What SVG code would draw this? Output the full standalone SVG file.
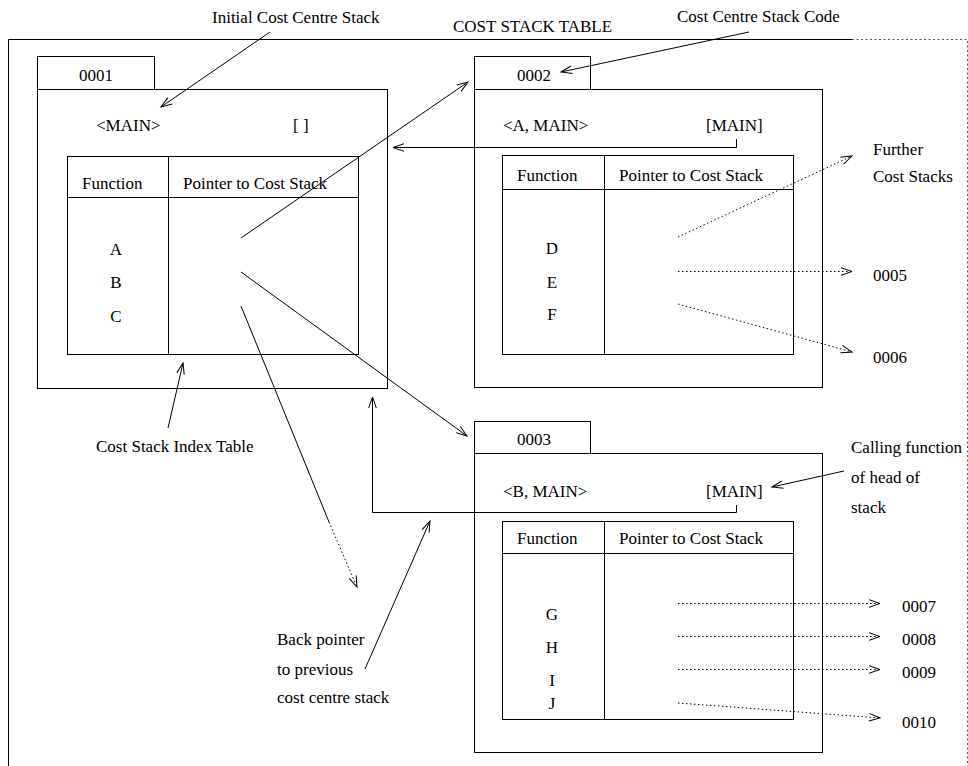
<svg xmlns="http://www.w3.org/2000/svg" width="968" height="766" viewBox="0 0 968 766">
<defs>
<marker id="ah" markerWidth="14" markerHeight="10" viewBox="-12 -5 14 10" refX="0" refY="0" orient="auto" markerUnits="userSpaceOnUse">
<path d="M-11,-3.8 L0,0 L-11,3.8" fill="none" stroke="#000" stroke-width="1"/>
</marker>
</defs>
<style>
text{font-family:"Liberation Serif","Times New Roman",serif;font-size:17px;fill:#000}
.c{text-anchor:middle}
.b{fill:#fff;stroke:#000;stroke-width:1}
.l{fill:none;stroke:#000;stroke-width:1}
.d{fill:none;stroke:#000;stroke-width:1;stroke-dasharray:1.5 2.5}
.f{fill:none;stroke:#555;stroke-width:1;stroke-dasharray:2 2.5}
</style>
<rect width="968" height="766" fill="#fff"/>
<g id="frame">
<path class="l" d="M8.5,766 V39.5 H852"/>
<path class="f" d="M852,39.5 H967.5 V766"/>
<text x="453" y="32">COST STACK TABLE</text>
</g>
<g id="stack0001">
<rect class="b" x="37.5" y="56.5" width="117" height="33"/>
<rect class="b" x="37.5" y="89.5" width="350" height="299"/>
<text class="c" x="96" y="81">0001</text>
<text x="96" y="131">&lt;MAIN&gt;</text>
<text x="293" y="131">[ ]</text>
<rect class="b" x="67.5" y="156.5" width="291" height="198"/>
<path class="l" d="M168.5,156.5 V354.5 M67.5,197.5 H358.5"/>
<text x="82" y="189">Function</text>
<text x="183" y="189">Pointer to Cost Stack</text>
<text class="c" x="116" y="255">A</text>
<text class="c" x="116" y="288">B</text>
<text class="c" x="116" y="322">C</text>
</g>
<g id="stack0002">
<rect class="b" x="474.5" y="56.5" width="116" height="33"/>
<rect class="b" x="474.5" y="89.5" width="348" height="298"/>
<text class="c" x="534" y="81">0002</text>
<text x="503" y="131">&lt;A, MAIN&gt;</text>
<text x="706" y="131">[MAIN]</text>
<rect class="b" x="502.5" y="155.5" width="291" height="199"/>
<path class="l" d="M604.5,155.5 V354.5 M502.5,189.5 H793.5"/>
<text x="517" y="181">Function</text>
<text x="619" y="181">Pointer to Cost Stack</text>
<text class="c" x="552" y="254">D</text>
<text class="c" x="552" y="288">E</text>
<text class="c" x="552" y="320">F</text>
</g>
<g id="stack0003">
<rect class="b" x="474.5" y="421.5" width="116" height="32"/>
<rect class="b" x="474.5" y="453.5" width="348" height="299"/>
<text class="c" x="534" y="445">0003</text>
<text x="503" y="497">&lt;B, MAIN&gt;</text>
<text x="706" y="497">[MAIN]</text>
<rect class="b" x="502.5" y="521.5" width="291" height="198"/>
<path class="l" d="M604.5,521.5 V719.5 M502.5,553.5 H793.5"/>
<text x="517" y="544">Function</text>
<text x="619" y="544">Pointer to Cost Stack</text>
<text class="c" x="552" y="620">G</text>
<text class="c" x="552" y="653">H</text>
<text class="c" x="552" y="686">I</text>
<text class="c" x="552" y="709">J</text>
</g>
<g id="labels">
<text x="212" y="23">Initial Cost Centre Stack</text>
<text x="677" y="22">Cost Centre Stack Code</text>
<text x="96" y="452">Cost Stack Index Table</text>
<text x="873" y="155">Further</text>
<text x="873" y="182">Cost Stacks</text>
<text x="873" y="281">0005</text>
<text x="873" y="363">0006</text>
<text x="851" y="453">Calling function</text>
<text x="851" y="483">of head of</text>
<text x="851" y="513">stack</text>
<text x="902" y="612">0007</text>
<text x="902" y="645">0008</text>
<text x="902" y="678">0009</text>
<text x="902" y="728">0010</text>
<text x="277" y="645">Back pointer</text>
<text x="277" y="675">to previous</text>
<text x="277" y="703">cost centre stack</text>
</g>
<g id="connectors">
<path class="l" d="M270,32 L161,107" marker-end="url(#ah)"/>
<path class="l" d="M749,32 L561,72" marker-end="url(#ah)"/>
<path class="l" d="M241,238 L468,82" marker-end="url(#ah)"/>
<path class="l" d="M241,272 L467,436" marker-end="url(#ah)"/>
<path class="l" d="M241,306 L329,522"/>
<path class="d" d="M329,522 L357,587" marker-end="url(#ah)"/>
<path class="l" d="M736.5,139 V147.5 H393" marker-end="url(#ah)"/>
<path class="l" d="M736.5,505 V512.5 H372.5 V397" marker-end="url(#ah)"/>
<path class="l" d="M168,428 L183,363" marker-end="url(#ah)"/>
<path class="l" d="M365,669 L430,521" marker-end="url(#ah)"/>
<path class="l" d="M844,471 L772,487" marker-end="url(#ah)"/>
<path class="d" d="M678,237 L852,156" marker-end="url(#ah)"/>
<path class="d" d="M678,271.5 L852,271.5" marker-end="url(#ah)"/>
<path class="d" d="M678,304 L852,352" marker-end="url(#ah)"/>
<path class="d" d="M678,603.5 L880,603.5" marker-end="url(#ah)"/>
<path class="d" d="M678,636.5 L880,636.5" marker-end="url(#ah)"/>
<path class="d" d="M678,669.5 L880,669.5" marker-end="url(#ah)"/>
<path class="d" d="M678,703 L880,718" marker-end="url(#ah)"/>
</g>
</svg>
